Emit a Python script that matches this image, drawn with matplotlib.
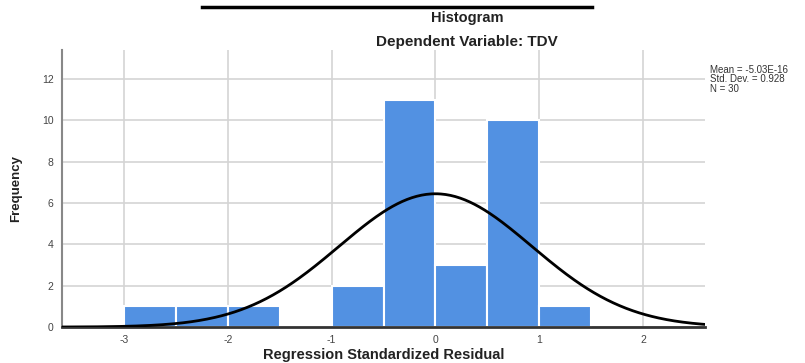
import numpy as np
import matplotlib
matplotlib.use("Agg")
import matplotlib.pyplot as plt

bin_edges = [-3.0, -2.5, -2.0, -1.5, -1.0, -0.5, 0.0, 0.5, 1.0, 1.5]
counts = [1, 1, 1, 0, 2, 11, 3, 10, 1]
mean = -5.03e-16
std = 0.928
n = 30
xticks = [-3, -2, -1, 0, 1, 2]
xtick_labels = ['-3', '-2', '-1', '0', '1', '2']
yticks = [0, 2, 4, 6, 8, 10, 12]

plt.rcParams['font.family'] = ['Liberation Sans', 'DejaVu Sans']

fig = plt.figure(figsize=(8.05, 3.63), dpi=100)
ax = fig.add_axes([0.077, 0.099, 0.799, 0.763])

ax.set_axisbelow(True)
ax.grid(True, color='#d4d4d4', linewidth=1.2)
lefts = np.array(bin_edges[:-1])
widths = np.diff(bin_edges)
ax.bar(lefts, counts, width=widths, align='edge', color='#5291e2',
       edgecolor='white', linewidth=1.5, zorder=2)

xs = np.linspace(-3.6, 2.6, 400)
bw = widths[0]
ys = n * bw / (std * np.sqrt(2 * np.pi)) * np.exp(-0.5 * ((xs - mean) / std) ** 2)
ax.plot(xs, ys, color='black', linewidth=2, zorder=3)

ax.set_xlim(-3.6, 2.6)
ax.set_ylim(0, 13.4)
ax.set_xticks(xticks)
ax.set_xticklabels(xtick_labels)
ax.set_yticks(yticks)
ax.tick_params(length=0, labelsize=7.5, colors='#444444', pad=6)
for s in ['top', 'right']:
    ax.spines[s].set_visible(False)
ax.spines['left'].set_color('#888888')
ax.spines['left'].set_linewidth(1.5)
ax.spines['bottom'].set_color('#333333')
ax.spines['bottom'].set_linewidth(2)

ax.set_xlabel('Regression Standardized Residual', fontsize=10.5, fontweight='bold', labelpad=2, color='#222222')
ax.set_ylabel('Frequency', fontsize=9.5, fontweight='bold', labelpad=14, color='#222222')

fig.text(0.580, 0.950, 'Histogram', ha='center', va='center', fontsize=10.5, fontweight='bold', color='#222222')
fig.text(0.580, 0.884, 'Dependent Variable: TDV', ha='center', va='center', fontsize=11, fontweight='bold', color='#222222')

fig.text(0.882, 0.782, 'Mean = -5.03E-16\nStd. Dev. = 0.928\nN = 30', ha='left', va='center',
         fontsize=7, color='#333333', linespacing=0.95)

fig.add_artist(plt.Line2D([0.251, 0.736], [0.981, 0.981], color='black', linewidth=2.5, transform=fig.transFigure))

fig.savefig('out.png', dpi=100)
